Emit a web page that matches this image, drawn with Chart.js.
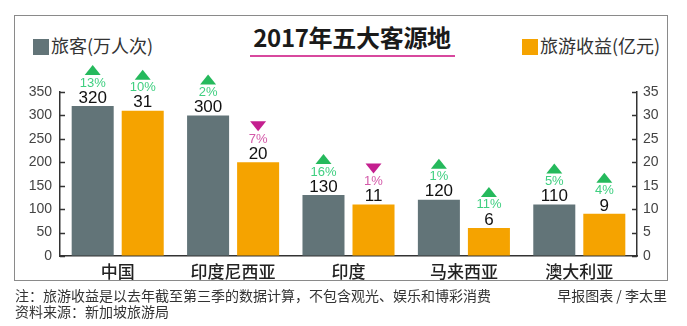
<!DOCTYPE html>
<html>
<head>
<meta charset="utf-8">
<script src="https://cdn.jsdelivr.net/npm/chart.js@4.4.1/dist/chart.umd.min.js"></script>
<style>
  body { margin: 0; background: #fff; }
  #wrap { position: relative; width: 687px; height: 326px; overflow: hidden; font-family: "Noto Sans CJK SC", sans-serif; color: #333; }
  #frame { position: absolute; left: 14px; top: 15px; width: 652px; height: 264px; border: 1.5px solid #8a8a8a; }
  #myChart { position: absolute; left: 0; top: 0; }
  .title { position: absolute; left: 250px; top: 21px; width: 204px; text-align: center; font-size: 24px; font-weight: bold; color: #1a1a1a; line-height: 32px; letter-spacing: -0.3px; }
  .underline { position: absolute; left: 250px; top: 55px; width: 205px; height: 2px; background: #d8489e; }
  .legend { position: absolute; top: 33px; font-size: 18px; line-height: 24px; color: #333; white-space: nowrap; }
  .legend i { display: inline-block; width: 16px; height: 16px; vertical-align: -2px; margin-right: 2px; }
  .note { position: absolute; font-size: 14px; line-height: 18px; color: #333; white-space: nowrap; }
</style>
</head>
<body>
<div id="wrap">
  <div id="frame"></div>
  <div class="title">2017年五大客源地</div>
  <div class="underline"></div>
  <div class="legend" style="left:33px"><i style="background:#627478"></i>旅客(万人次)</div>
  <div class="legend" style="left:522px"><i style="background:#f5a300"></i>旅游收益(亿元)</div>
  <canvas id="myChart" width="687" height="326"></canvas>
  <div class="note" style="left:15px; top:286px">注：旅游收益是以去年截至第三季的数据计算，不包含观光、娱乐和博彩消费</div>
  <div class="note" style="right:20px; top:286px">早报图表 / 李太里</div>
  <div class="note" style="left:15px; top:302px">资料来源：新加坡旅游局</div>
</div>

<script>
// data
const countries = ['中国', '印度尼西亚', '印度', '马来西亚', '澳大利亚'];
const visitors = [320, 300, 130, 120, 110];       // 万人次
const revenue = [31, 20, 11, 6, 9];               // 亿元
const visitorChange = [13, 2, 16, 1, 5];          // % vs last year
const revenueChange = [10, -7, -1, 11, 4];
const leftTicks = [0, 50, 100, 150, 200, 250, 300, 350];
const rightTicks = [0, 5, 10, 15, 20, 25, 30, 35];

const GRAY = '#627478';
const ORANGE = '#f5a300';
const UP = '#25b95c';
const UP_TEXT = '#3fcf80';
const DOWN = '#c41f8f';
const DOWN_TEXT = '#d45aa9';

// value, % change and arrow above each bar
const barLabels = {
    id: 'barLabels',
    afterDatasetsDraw(chart) {
        const ctx = chart.ctx;
        const changes = [visitorChange, revenueChange];
        const values = [visitors, revenue];
        chart.data.datasets.forEach((ds, i) => {
            const meta = chart.getDatasetMeta(i);
            meta.data.forEach((bar, j) => {
                const x = bar.x;
                const top = bar.y;
                const pct = changes[i][j];
                ctx.save();
                ctx.textAlign = 'center';
                ctx.textBaseline = 'middle';
                ctx.fillStyle = '#111';
                ctx.font = '17px "Liberation Sans", Arial, sans-serif';
                ctx.fillText(values[i][j], x, top - 8);

                ctx.fillStyle = pct >= 0 ? UP_TEXT : DOWN_TEXT;
                ctx.font = '13px "Liberation Sans", Arial, sans-serif';
                ctx.fillText(Math.abs(pct) + '%', x, top - 23);

                // arrow
                const ty = top - 36;
                ctx.fillStyle = pct >= 0 ? UP : DOWN;
                ctx.beginPath();
                if (pct >= 0) {
                    ctx.moveTo(x - 8, ty + 5);
                    ctx.lineTo(x + 8, ty + 5);
                    ctx.lineTo(x, ty - 5);
                } else {
                    ctx.moveTo(x - 8, ty - 5);
                    ctx.lineTo(x + 8, ty - 5);
                    ctx.lineTo(x, ty + 5);
                }
                ctx.closePath();
                ctx.fill();
                ctx.restore();
            });
        });
    }
};

// short tick marks pointing into the plot
const innerTicks = {
    id: 'innerTicks',
    afterDraw(chart) {
        const ctx = chart.ctx;
        ctx.save();
        ctx.strokeStyle = '#333';
        ctx.lineWidth = 1.5;
        ['y', 'y1'].forEach(id => {
            const scale = chart.scales[id];
            const dir = scale.position === 'left' ? 1 : -1;
            const x0 = scale.position === 'left' ? scale.right : scale.left;
            scale.ticks.forEach(t => {
                const py = Math.round(scale.getPixelForValue(t.value)) + 0.5;
                ctx.beginPath();
                ctx.moveTo(x0, py);
                ctx.lineTo(x0 + dir * 5, py);
                ctx.stroke();
            });
        });
        ctx.restore();
    }
};

const ctx = document.getElementById('myChart');
let myChart = new Chart(ctx, {
    type: 'bar',
    data: {
        labels: countries,
        datasets: [{
            label: '旅客(万人次)',
            data: visitors,
            backgroundColor: GRAY,
            yAxisID: 'y'
        }, {
            label: '旅游收益(亿元)',
            data: revenue,
            backgroundColor: ORANGE,
            yAxisID: 'y1'
        }]
    },
    options: {
        responsive: false,
        animation: false,
        categoryPercentage: 0.867,
        barPercentage: 0.84,
        layout: { padding: { top: 92, bottom: 40, left: 0, right: 0 } },
        plugins: {
            legend: { display: false },
            tooltip: { enabled: false }
        },
        scales: {
            x: {
                grid: { display: false, drawTicks: false },
                border: { color: '#333', width: 1.5 },
                ticks: {
                    maxRotation: 0,
                    padding: 5,
                    color: '#222',
                    font: { family: '"Noto Sans CJK SC"', size: 17, weight: '500' }
                },
                afterFit(scale) { scale.height = 30; }
            },
            y: {
                position: 'left',
                min: 0,
                max: 350,
                afterBuildTicks(scale) { scale.ticks = leftTicks.map(v => ({ value: v })); },
                grid: { drawOnChartArea: false, drawTicks: false },
                border: { color: '#333', width: 1.5 },
                ticks: {
                    padding: 8,
                    color: '#444',
                    font: { family: '"Liberation Sans", Arial', size: 14 }
                },
                afterFit(scale) { scale.width = 60; }
            },
            y1: {
                position: 'right',
                min: 0,
                max: 35,
                afterBuildTicks(scale) { scale.ticks = rightTicks.map(v => ({ value: v })); },
                grid: { drawOnChartArea: false, drawTicks: false },
                border: { color: '#333', width: 1.5 },
                ticks: {
                    padding: 6,
                    color: '#444',
                    font: { family: '"Liberation Sans", Arial', size: 14 }
                },
                afterFit(scale) { scale.width = 50; }
            }
        }
    },
    plugins: [barLabels, innerTicks]
});
</script>
</body>
</html>
